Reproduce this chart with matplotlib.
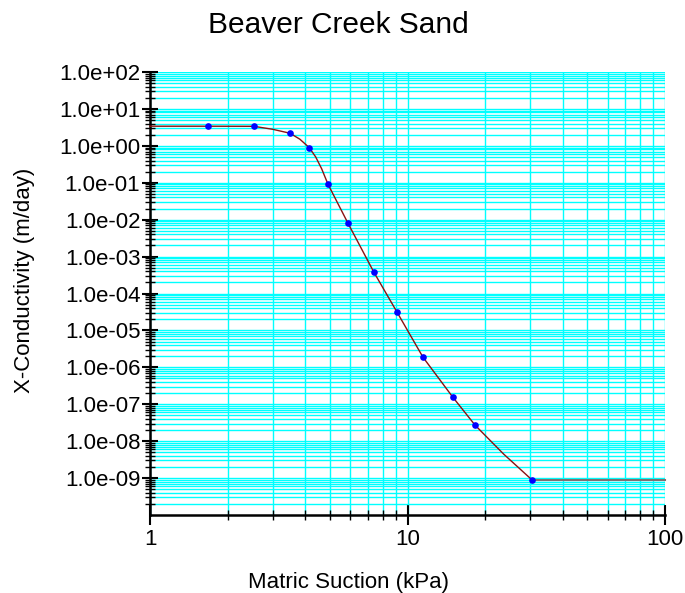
import matplotlib
matplotlib.use("Agg")
import matplotlib.pyplot as plt
from matplotlib.ticker import LogLocator, FixedLocator, FuncFormatter, NullFormatter

plt.rcParams['font.family'] = ['Liberation Sans', 'DejaVu Sans']

title = "Beaver Creek Sand"
x_label = "Matric Suction (kPa)"
y_label = "X-Conductivity (m/day)"

# measured points
suction = [1.68, 2.53, 3.50, 4.15, 4.91, 5.87, 7.41, 9.10, 11.49, 15.0, 18.3, 30.4]
conductivity = [3.40, 3.40, 2.19, 0.90, 0.0916, 0.00806, 3.73e-4, 3.15e-5,
                1.87e-6, 1.55e-7, 2.71e-8, 9.0e-10]

# fitted curve
curve_x = [1.0, 1.68, 2.53, 3.0, 3.50, 3.82, 4.15, 4.40, 4.64, 4.91, 5.87, 7.41, 9.10,
           11.49, 15.0, 18.3, 23.6, 30.4]
curve_y = [3.40, 3.40, 3.38, 2.80, 2.19, 1.51, 0.90, 0.50, 0.24, 0.0916, 0.00806, 3.73e-4,
           3.15e-5, 1.87e-6, 1.55e-7, 2.71e-8, 4.5e-9, 9.0e-10]
tail_x = [30.4, 100.0]
tail_y = [9.0e-10, 9.0e-10]

x_ticks = [1, 10, 100]
x_ticklabels = ["1", "10", "100"]
y_ticks = [1e-9, 1e-8, 1e-7, 1e-6, 1e-5, 1e-4, 1e-3, 1e-2, 1e-1, 1e0, 1e1, 1e2]

W, H = 685, 593
fig = plt.figure(figsize=(W / 100, H / 100), dpi=100)
ax = fig.add_axes([150 / W, 1 - 515 / H, (665 - 150) / W, (515 - 72) / H])

ax.set_xscale('log')
ax.set_yscale('log')
ax.set_xlim(1, 100)
ax.set_ylim(1e-10, 1e2)

ax.xaxis.set_major_locator(FixedLocator(x_ticks))
ax.xaxis.set_major_formatter(FuncFormatter(lambda v, p: x_ticklabels[x_ticks.index(round(v))] if round(v) in x_ticks else ""))
ax.xaxis.set_minor_locator(LogLocator(base=10, subs=range(2, 10), numticks=20))
ax.xaxis.set_minor_formatter(NullFormatter())

ax.yaxis.set_major_locator(FixedLocator(y_ticks))
ax.yaxis.set_major_formatter(FuncFormatter(lambda v, p: f"{v:.1e}"))
ax.yaxis.set_minor_locator(LogLocator(base=10, subs=range(2, 10), numticks=30))
ax.yaxis.set_minor_formatter(NullFormatter())

ax.grid(True, which='both', color='#00FFFF', linewidth=1.0, zorder=0)
ax.set_axisbelow(True)

for s in ['top', 'right']:
    ax.spines[s].set_visible(False)
for s in ['left', 'bottom']:
    ax.spines[s].set_linewidth(1.8)
    ax.spines[s].set_color('black')

ax.tick_params(axis='y', which='major', direction='inout', length=12, width=1.5,
               labelsize=16, pad=1)
ax.tick_params(axis='y', which='minor', direction='inout', length=7, width=1.0)
ax.tick_params(axis='x', which='major', direction='inout', length=14, width=1.5,
               labelsize=16, pad=3)
ax.tick_params(axis='x', which='minor', direction='inout', length=7, width=1.0)

ax.plot(tail_x, tail_y, color='#7f7070', linewidth=1.5, zorder=3, clip_on=False)
ax.plot(curve_x, curve_y, color='#8B1010', linewidth=1.0, zorder=4, clip_on=False)
ax.plot(suction, conductivity, linestyle='none', marker='o', markersize=4.8,
        color='#0000FF', markeredgewidth=0, zorder=5, clip_on=False)

fig.text(338 / W, 1 - 33 / H, title, ha='center', va='baseline', fontsize=21.5)
fig.text(349 / W, 1 - 588 / H, x_label, ha='center', va='baseline', fontsize=16)
fig.text(30 / W, 1 - 280 / H, y_label, ha='center', va='baseline', rotation=90,
         rotation_mode='anchor', fontsize=16)

fig.savefig("out.png", dpi=100, facecolor='white')
